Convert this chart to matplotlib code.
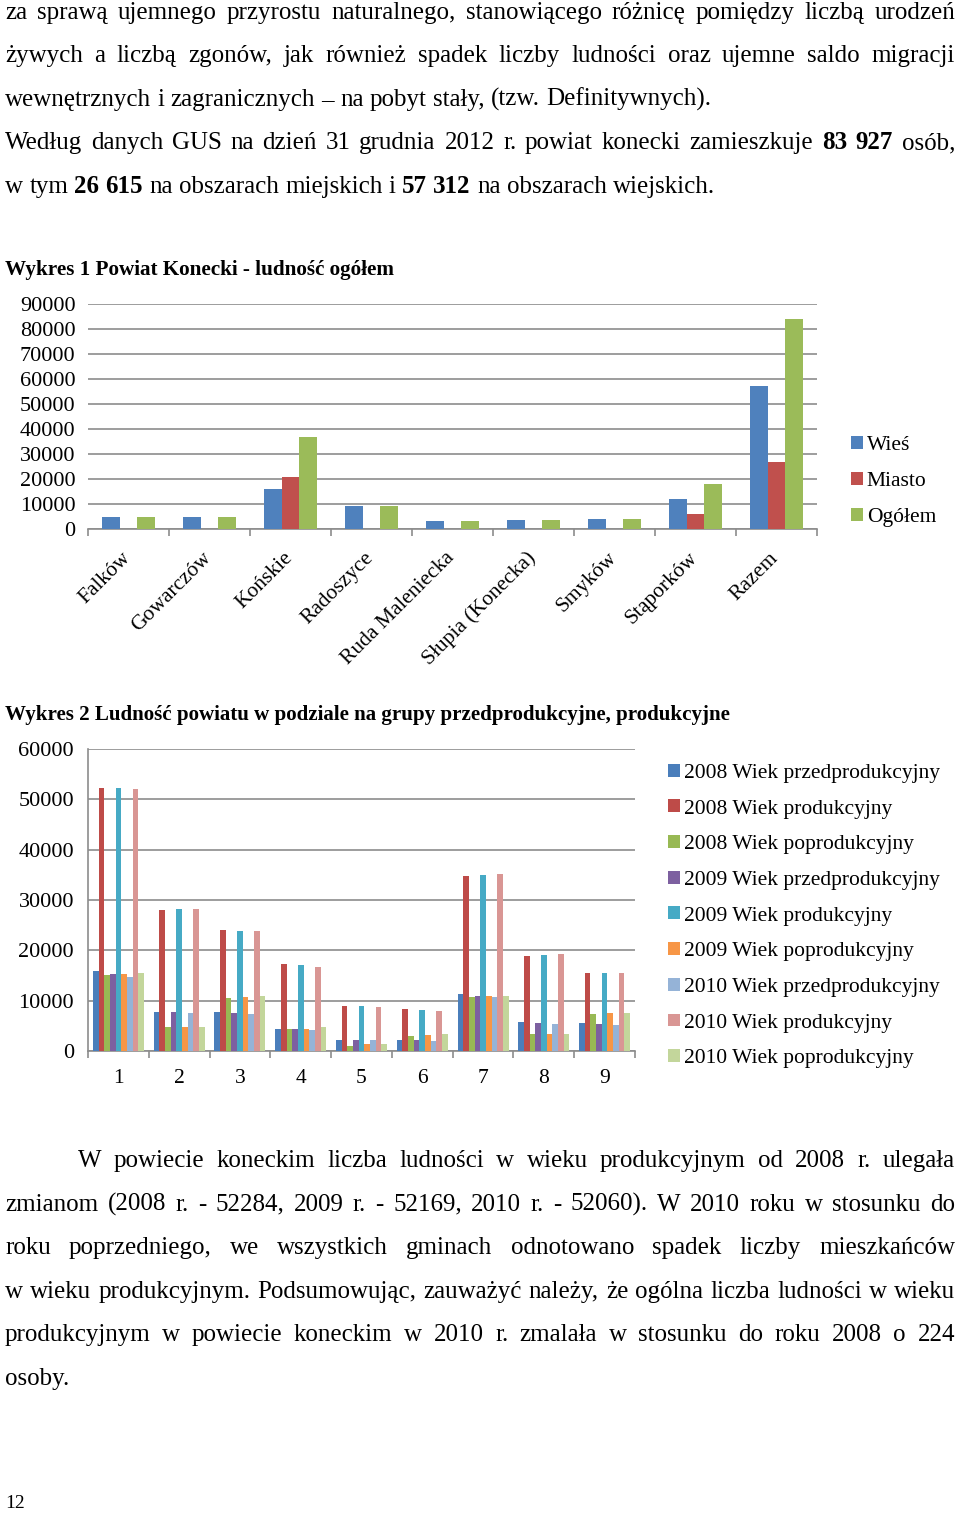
import matplotlib
matplotlib.use('Agg')
import numpy as np
import matplotlib.pyplot as plt
import matplotlib.transforms as mtransforms

plt.rcParams['font.family'] = ['Liberation Serif', 'DejaVu Serif']

# --- text of the page ---
para1 = [
    "za sprawą ujemnego przyrostu naturalnego, stanowiącego różnicę pomiędzy liczbą urodzeń",
    "żywych a liczbą zgonów, jak również spadek liczby ludności oraz ujemne saldo migracji",
    "wewnętrznych i zagranicznych – na pobyt stały, (tzw. Definitywnych).",
    "Według danych GUS na dzień 31 grudnia 2012 r. powiat konecki zamieszkuje *83 *927 osób,",
    "w tym *26 *615 na obszarach miejskich i *57 *312 na obszarach wiejskich.",
]
para1_justify = [True, True, False, True, False]

para2 = [
    "W powiecie koneckim liczba ludności w wieku produkcyjnym od 2008 r. ulegała",
    "zmianom (2008 r.  - 52284, 2009 r. - 52169, 2010 r. - 52060). W 2010 roku w stosunku do",
    "roku poprzedniego, we wszystkich gminach odnotowano spadek liczby mieszkańców",
    "w wieku produkcyjnym. Podsumowując, zauważyć należy, że ogólna liczba ludności w wieku",
    "produkcyjnym w powiecie koneckim w 2010 r. zmalała w stosunku do roku 2008 o 224",
    "osoby.",
]
para2_justify = [True, True, True, True, True, False]

title1 = "Wykres 1 Powiat Konecki - ludność ogółem"
title2 = "Wykres 2 Ludność powiatu w podziale na grupy przedprodukcyjne, produkcyjne"

# --- chart 1 data ---
gminy = ['Falków', 'Gowarczów', 'Końskie', 'Radoszyce', 'Ruda Maleniecka',
         'Słupia (Konecka)', 'Smyków', 'Stąporków', 'Razem']
wies = [4700, 4700, 16000, 9100, 3200, 3600, 3900, 12000, 57312]
miasto = [0, 0, 20700, 0, 0, 0, 0, 5900, 26615]
ogolem = [4700, 4700, 36700, 9100, 3200, 3600, 3900, 17900, 83927]
labels1 = ['Wieś', 'Miasto', 'Ogółem']
colors1 = ['#4F81BD', '#C0504D', '#9BBB59']

# --- chart 2 data ---
grupy = ['1', '2', '3', '4', '5', '6', '7', '8', '9']
pre_2008 = [15800, 7820, 7690, 4310, 2120, 2120, 11340, 5700, 5500]
prod_2008 = [52284, 28050, 24000, 17370, 8950, 8350, 34670, 18960, 15580]
post_2008 = [15120, 4710, 10600, 4310, 1060, 2920, 10740, 3320, 7360]
pre_2009 = [15320, 7690, 7490, 4310, 2120, 2120, 10940, 5500, 5300]
prod_2009 = [52169, 28180, 23800, 17170, 8950, 8150, 34870, 19160, 15580]
post_2009 = [15320, 4710, 10800, 4310, 1330, 3120, 10940, 3320, 7560]
pre_2010 = [14790, 7490, 7290, 4110, 2120, 1920, 10740, 5300, 5100]
prod_2010 = [52060, 28180, 23800, 16710, 8750, 7960, 35070, 19360, 15580]
post_2010 = [15580, 4710, 10940, 4710, 1330, 3320, 10940, 3320, 7560]
labels2 = ['2008 Wiek przedprodukcyjny', '2008 Wiek produkcyjny', '2008 Wiek poprodukcyjny',
           '2009 Wiek przedprodukcyjny', '2009 Wiek produkcyjny', '2009 Wiek poprodukcyjny',
           '2010 Wiek przedprodukcyjny', '2010 Wiek produkcyjny', '2010 Wiek poprodukcyjny']
colors2 = ['#4A7EBB', '#BE4B48', '#98B954', '#7D60A0', '#46AAC5', '#F79646',
           '#95B3D7', '#D99694', '#C3D69B']

W, H = 960, 1513
fig = plt.figure(figsize=(W / 100, H / 100), dpi=100)
renderer = fig.canvas.get_renderer()

def fx(x):
    return x / W

def fy(y):
    return 1 - y / H

def rect(x0, y0, x1, y1):
    return [x0 / W, 1 - y1 / H, (x1 - x0) / W, (y1 - y0) / H]

BODY = 18

def put_line(line, x0, x1, y, justify):
    # one word per text so the line can be spread out like a justified paragraph
    words = line.split()
    texts = []
    widths = []
    for w in words:
        bold = w.startswith('*')
        t = fig.text(0, 0, w.lstrip('*'), fontsize=BODY,
                     fontweight='bold' if bold else 'normal', va='baseline')
        widths.append(t.get_window_extent(renderer).width)
        texts.append(t)
    space = BODY * 100 / 72 * 0.25
    if justify and len(words) > 1:
        space = (x1 - x0 - sum(widths)) / (len(words) - 1)
    x = x0
    for t, w in zip(texts, widths):
        t.set_position((fx(x), fy(y)))
        x += w + space

for i, line in enumerate(para1):
    put_line(line, 5, 955, 19 + i * 43.4, para1_justify[i])

for i, line in enumerate(para2):
    x0 = 78 if i == 0 else 5
    put_line(line, x0, 955, 1167 + i * 43.6, para2_justify[i])

fig.text(fx(5), fy(270), title1, fontsize=15.2, fontweight='bold', va='center')
fig.text(fx(5), fy(715), title2, fontsize=15.1, fontweight='bold', va='center')
fig.text(fx(5), fy(1503), '12', fontsize=14, va='center')

grid_col = '#8C8C8C'

# ---------------- chart 1 ----------------
ax1 = fig.add_axes(rect(88, 304, 817, 529))
x = np.arange(len(gminy))
bw = 0.222
for k, (vals, col, lab) in enumerate(zip([wies, miasto, ogolem], colors1, labels1)):
    ax1.bar(x + 0.5 + (k - 1) * bw, vals, bw, color=col, label=lab, zorder=3)
ax1.set_xlim(0, len(gminy))
ax1.set_ylim(0, 90000)
ax1.set_yticks(np.arange(0, 90001, 10000))
ax1.yaxis.grid(True, color=grid_col, lw=1.2, zorder=0)
ax1.tick_params(axis='y', length=0, labelsize=16, pad=9)
ax1.set_xticks(np.arange(0, len(gminy) + 1))
ax1.set_xticklabels([])
ax1.tick_params(axis='x', which='major', length=5, color=grid_col, width=1.2)
ax1.set_xticks(x + 0.5, minor=True)
ax1.set_xticklabels(gminy, minor=True, rotation=45, ha='right', va='top')
ax1.tick_params(axis='x', which='minor', length=0, labelsize=15.5, pad=14)
off = mtransforms.ScaledTranslation(6 / 100, 0, fig.dpi_scale_trans)
for lbl in ax1.get_xticklabels(minor=True):
    lbl.set_transform(lbl.get_transform() + off)
for s in ['top', 'right', 'left']:
    ax1.spines[s].set_visible(False)
ax1.spines['bottom'].set_color(grid_col)
ax1.spines['bottom'].set_linewidth(1.2)
ax1.legend(loc='upper left', bbox_to_anchor=(fx(840), fy(425)), bbox_transform=fig.transFigure,
           frameon=False, fontsize=15.5, handlelength=0.55, handleheight=0.55,
           handletextpad=0.2, labelspacing=0.78, borderpad=0)

# ---------------- chart 2 ----------------
ax2 = fig.add_axes(rect(88, 749, 635, 1051))
series2 = [pre_2008, prod_2008, post_2008, pre_2009, prod_2009, post_2009,
           pre_2010, prod_2010, post_2010]
x2 = np.arange(len(grupy))
bw2 = 0.84 / len(series2)
for k, (vals, col, lab) in enumerate(zip(series2, colors2, labels2)):
    ax2.bar(x2 + 0.5 + (k - 4) * bw2, vals, bw2, color=col, label=lab, zorder=3)
ax2.set_xlim(0, len(grupy))
ax2.set_ylim(0, 60000)
ax2.set_yticks(np.arange(0, 60001, 10000))
ax2.yaxis.grid(True, color=grid_col, lw=1.2, zorder=0)
ax2.tick_params(axis='y', length=0, labelsize=16, pad=10)
ax2.set_xticks(np.arange(0, len(grupy) + 1))
ax2.set_xticklabels([])
ax2.tick_params(axis='x', which='major', length=5, color=grid_col, width=1.2)
ax2.set_xticks(x2 + 0.5, minor=True)
ax2.set_xticklabels(grupy, minor=True)
ax2.tick_params(axis='x', which='minor', length=0, labelsize=15.5, pad=13)
for s in ['top', 'right']:
    ax2.spines[s].set_visible(False)
for s in ['bottom', 'left']:
    ax2.spines[s].set_color(grid_col)
    ax2.spines[s].set_linewidth(1.2)
ax2.legend(loc='upper left', bbox_to_anchor=(fx(657), fy(753)), bbox_transform=fig.transFigure,
           frameon=False, fontsize=15.5, handlelength=0.55, handleheight=0.55,
           handletextpad=0.2, labelspacing=0.77, borderpad=0)

fig.savefig('out.png', dpi=100)
